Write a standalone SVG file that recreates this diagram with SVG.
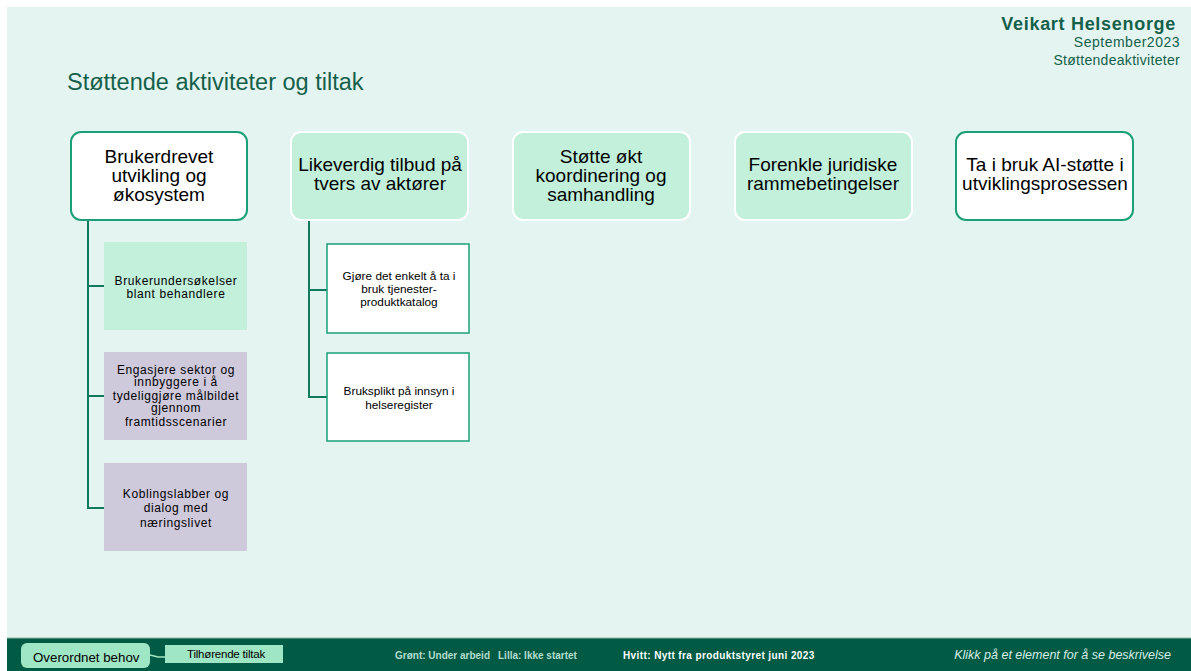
<svg xmlns="http://www.w3.org/2000/svg" width="1191" height="671" viewBox="0 0 1191 671">
<style>
.t{font-family:"Liberation Sans",Arial,sans-serif}
.top{font-size:19px;fill:#000;text-anchor:middle}
.sub{font-size:12px;fill:#000;text-anchor:middle;letter-spacing:0.6px}
.sub2{font-size:11.8px;fill:#000;text-anchor:middle}
.nw{fill:#fff;stroke:#1a9f78;stroke-width:2}
.ng{fill:#c2f0db;stroke:#fff;stroke-width:2}
.cg{fill:#c2f0db}
.cl{fill:#cfc9dc}
.cw{fill:#fff;stroke:#1a9f78;stroke-width:1.5}
.conn{stroke:#0f7a5c;stroke-width:2;fill:none}
.hdr{fill:#14604a}
.ft{font-size:10px;font-weight:bold}
</style>
<rect x="0" y="0" width="1191" height="671" fill="#fff"/>
<rect x="7" y="7" width="1184" height="664" fill="#e4f5f1"/>
<text class="t hdr" x="1176" y="30" font-size="18" font-weight="bold" text-anchor="end" letter-spacing="0.7">Veikart Helsenorge</text>
<text class="t hdr" x="1180" y="47" font-size="14" text-anchor="end" letter-spacing="0.5">September2023</text>
<text class="t hdr" x="1180" y="65" font-size="14" text-anchor="end" letter-spacing="0.3">Støttendeaktiviteter</text>
<text class="t hdr" x="67" y="90" font-size="23.5">Støttende aktiviteter og tiltak</text>
<g id="connectors">
<path class="conn" d="M88 219V508H104M88 286H104M88 396H104"/>
<path class="conn" d="M309 219V397H327M309 290H327"/>
</g>
<g id="n1"><rect class="nw" x="71" y="132" width="176" height="88" rx="10"/>
<text class="t top" x="159" y="163">Brukerdrevet</text><text class="t top" x="159" y="182">utvikling og</text><text class="t top" x="159" y="201">økosystem</text></g>
<g id="n2"><rect class="ng" x="291" y="132" width="177" height="88" rx="10"/>
<text class="t top" x="380" y="171">Likeverdig tilbud på</text><text class="t top" x="380" y="190">tvers av aktører</text></g>
<g id="n3"><rect class="ng" x="513" y="132" width="177" height="88" rx="10"/>
<text class="t top" x="601" y="163">Støtte økt</text><text class="t top" x="601" y="182">koordinering og</text><text class="t top" x="601" y="201">samhandling</text></g>
<g id="n4"><rect class="ng" x="735" y="132" width="177" height="88" rx="10"/>
<text class="t top" x="823" y="171">Forenkle juridiske</text><text class="t top" x="823" y="190">rammebetingelser</text></g>
<g id="n5"><rect class="nw" x="956" y="132" width="177" height="88" rx="10"/>
<text class="t top" x="1045" y="171">Ta i bruk AI-støtte i</text><text class="t top" x="1045" y="190">utviklingsprosessen</text></g>
<g id="c1"><rect class="cg" x="104" y="242" width="143" height="88"/>
<text class="t sub" x="176" y="285">Brukerundersøkelser</text><text class="t sub" x="176" y="298">blant behandlere</text></g>
<g id="c2"><rect class="cl" x="104" y="352" width="143" height="88"/>
<text class="t sub" x="176" y="374">Engasjere sektor og</text><text class="t sub" x="176" y="386">innbyggere i å</text><text class="t sub" x="176" y="400">tydeliggjøre målbildet</text><text class="t sub" x="176" y="412">gjennom</text><text class="t sub" x="176" y="426">framtidsscenarier</text></g>
<g id="c3"><rect class="cl" x="104" y="463" width="143" height="88"/>
<text class="t sub" x="176" y="498">Koblingslabber og</text><text class="t sub" x="176" y="512">dialog med</text><text class="t sub" x="176" y="527">næringslivet</text></g>
<g id="c4"><rect class="cw" x="327" y="244" width="142" height="89"/>
<text class="t sub2" x="399" y="280">Gjøre det enkelt å ta i</text><text class="t sub2" x="399" y="293">bruk tjenester-</text><text class="t sub2" x="399" y="306">produktkatalog</text></g>
<g id="c5"><rect class="cw" x="327" y="353" width="142" height="88"/>
<text class="t sub2" x="399" y="395">Bruksplikt på innsyn i</text><text class="t sub2" x="399" y="409">helseregister</text></g>
<g id="footer">
<rect x="7" y="638" width="1184" height="33" fill="#005a44"/>
<line x1="7" y1="638" x2="1191" y2="638" stroke="#8cb8a8" stroke-width="1"/>
<rect x="21" y="643" width="129" height="25" rx="6" fill="#9fe6c4"/>
<path d="M150 655L158 657H165" stroke="#9fe6c4" stroke-width="1.5" fill="none"/>
<rect x="165" y="645" width="118" height="18" fill="#9fe6c4"/>
<text class="t" x="33" y="662" font-size="13.3" fill="#000">Overordnet behov</text>
<text class="t" x="226" y="658" font-size="11.5" fill="#000" text-anchor="middle" letter-spacing="-0.2">Tilhørende tiltak</text>
<text class="t ft" x="395" y="659" fill="#b6dccd">Grønt: Under arbeid</text>
<text class="t ft" x="498" y="659" fill="#b6dccd">Lilla: Ikke startet</text>
<text class="t ft" x="623" y="659" fill="#fff" font-size="12" letter-spacing="0.4">Hvitt: Nytt fra produktstyret juni 2023</text>
<text class="t" x="1171" y="659" font-size="12.5" font-style="italic" fill="#d6ece4" text-anchor="end">Klikk på et element for å se beskrivelse</text>
</g>
</svg>
